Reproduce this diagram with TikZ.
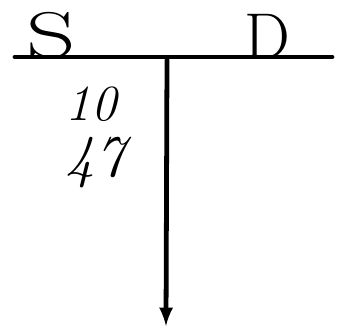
\documentclass[tikz,border=0pt]{standalone}
\usepackage{tikz}
\usetikzlibrary{arrows}

\begin{document}
\begin{tikzpicture}[x=0.025cm, y=-0.025cm]
		\useasboundingbox (0,0) rectangle (342,327);
		\tikzset{bar/.style={black, line width=3.4pt, line cap=round},
			lbl/.style={inner sep=0pt, font=\fontsize{46}{46}\selectfont},
			num/.style={inner sep=0pt, font=\fontsize{36}{36}\selectfont\itshape}}
		\coordinate (left) at (15,57);
		\coordinate (right) at (332,57);
		\coordinate (top) at (167,60);
		\coordinate (bottom) at (166,326);
		\draw[bar] (left) -- (right);
		\draw[bar, -latex] (top) -- (bottom);
		\node[lbl, xscale=1.5] (supply) at (51,35) {S};
		\node[lbl] (demand) at (267,36) {D};
		\node[num] (qty) at (91,104) {10};
		\node[num, font=\fontsize{42}{42}\selectfont\itshape] (price) at (95,163) {47};
	\end{tikzpicture}
\end{document}
